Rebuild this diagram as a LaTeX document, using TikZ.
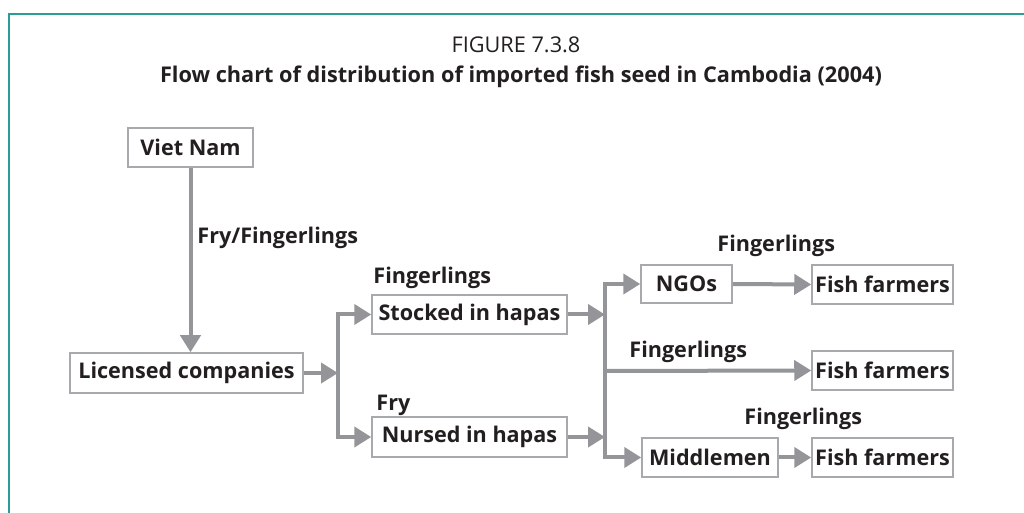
\documentclass[tikz,border=0pt]{standalone}
\usepackage{fontspec}
\setmainfont{Open Sans}
\usetikzlibrary{arrows.meta}
\definecolor{framecol}{HTML}{2A9D97}
\definecolor{flow}{HTML}{939598}
\definecolor{boxline}{HTML}{A7A9AC}
\definecolor{ink}{HTML}{231F20}
\newcommand{\chartfont}{\fontsize{10.8}{12.8}\selectfont}
\newcommand{\headfont}{\fontsize{10.85}{12.8}\selectfont}
\begin{document}
\begin{tikzpicture}[x=0.5pt,y=-0.5pt,
  stage/.style={draw=boxline, line width=0.75pt, fill=white, text=ink,
    font=\bfseries\chartfont, inner sep=0pt, minimum height=19.5pt},
  tag/.style={text=ink, font=\bfseries\chartfont, inner sep=0pt, anchor=west},
  flowline/.style={draw=flow, line width=2pt},
  flowarrow/.style={flowline, -{Triangle[length=8.5pt,width=10pt]}}]
\useasboundingbox (0,0) rectangle (1024,513);
% partial frame
\draw[framecol, line width=1pt] (1024,14) -- (9,14) -- (9,513);
% titles
\node[text=ink, font=\headfont, inner sep=0pt] (fig) at (516,45) {FIGURE 7.3.8};
\node[text=ink, font=\bfseries\headfont, inner sep=0pt] (title) at (521,77)
  {Flow chart of distribution of imported fish seed in Cambodia (2004)};
% stages
\node[stage, minimum width=62.5pt] (vn) at (190.5,147.5) {Viet Nam};
\node[stage, minimum width=116.5pt, minimum height=20pt] (lc) at (186.5,373) {Licensed companies};
\node[stage, minimum width=97.5pt] (sih) at (469.5,314.5) {Stocked in hapas};
\node[stage, minimum width=97.5pt, minimum height=20pt] (nih) at (469.5,437) {Nursed in hapas};
\node[stage, minimum width=45.5pt, minimum height=19pt] (ngo) at (686.5,284) {NGOs};
\node[stage, minimum width=70.5pt] (ff1) at (882.5,284.5) {Fish farmers};
\node[stage, minimum width=70.5pt] (ff2) at (882.5,370.5) {Fish farmers};
\node[stage, minimum width=68pt] (mid) at (710,457.5) {Middlemen};
\node[stage, minimum width=70.5pt] (ff3) at (882.5,457.5) {Fish farmers};
% junctions
\coordinate (j1) at (338,373);
\coordinate (j2) at (605,371);
% labels
\node[tag] (l1) at (197,238) {Fry/Fingerlings};
\node[tag] (l2) at (373,278) {Fingerlings};
\node[tag] (l3) at (376,405) {Fry};
\node[tag] (l4) at (717,246) {Fingerlings};
\node[tag] (l5) at (629,352) {Fingerlings};
\node[tag] (l6) at (744,419) {Fingerlings};
% connectors
\draw[flowarrow] (vn.south) -- (vn.south |- lc.north);
\draw[flowarrow] (lc.east) -- (j1);
\draw[flowarrow] (j1) |- (sih.west);
\draw[flowarrow] (j1) |- (nih.west);
\draw[flowarrow] (sih.east) -- (sih.east -| j2);
\draw[flowarrow] (nih.east) -- (nih.east -| j2);
\draw[flowarrow] (j2) |- (ngo.west);
\draw[flowarrow] (j2) -- (ff2.west);
\draw[flowarrow] (j2) |- (mid.west);
\draw[flowarrow] (ngo.east) -- (ff1.west);
\draw[flowarrow] (mid.east) -- (ff3.west);
\end{tikzpicture}
\end{document}
